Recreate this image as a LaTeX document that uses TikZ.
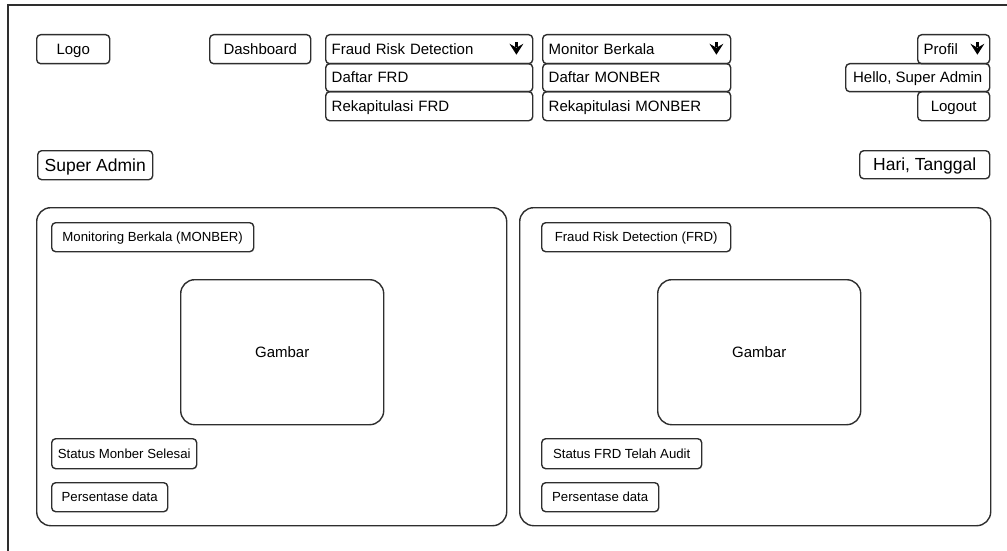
\documentclass[tikz,border=0pt]{standalone}
\usepackage{fontspec}
\setmainfont{Liberation Sans}
\begin{document}
\begin{tikzpicture}[x=1pt, y=-1pt,
  box/.style={draw=black!82, line width=1.4pt, rounded corners=4pt, inner sep=0pt,
              anchor=north west, align=center, text depth=0pt},
  panel/.style={box, rounded corners=14pt},
  menufont/.style={font=\fontsize{15}{18}\selectfont, text height=10.4pt},
  headfont/.style={font=\fontsize{17.5}{20}\selectfont, text height=12.2pt},
  smallfont/.style={font=\fontsize{13.2}{16}\selectfont, text height=9.2pt},
  menuitem/.style={box, menufont, minimum height=#1},
  dropitem/.style={box, menufont, align=left, inner xsep=6pt},
  droparrow/.pic={
    \fill (-1.2,0) rectangle (1.2,5);
    \fill (0,12.5) -- (-7,1.5) -- (0,5.5) -- (7,1.5) -- cycle;
  }
]
\clip (0,0) rectangle (1007,551);
% outer page frame, its right and bottom edges run past the visible area
\draw[draw=black!82, line width=1.5pt] (8,5) rectangle (1040,580);

% top navigation bar
\node[menuitem=29pt, minimum width=73pt] (logo) at (36,34) {Logo};
\node[menuitem=29pt, minimum width=101pt] (dash) at (209,34) {Dashboard};

\node[dropitem, text width=195pt, minimum height=29pt] (frd) at (325,34) {Fraud Risk Detection};
\node[dropitem, text width=195pt, minimum height=28pt] (frdlist) at (325,63) {Daftar FRD};
\node[dropitem, text width=195pt, minimum height=29pt] (frdrekap) at (325,91) {Rekapitulasi FRD};
\pic at ([xshift=-17pt, yshift=7pt]frd.east) {droparrow};

\node[dropitem, text width=176pt, minimum height=29pt] (mon) at (542,34) {Monitor Berkala};
\node[dropitem, text width=176pt, minimum height=28pt] (monlist) at (542,63) {Daftar MONBER};
\node[dropitem, text width=176pt, minimum height=29pt] (monrekap) at (542,91) {Rekapitulasi MONBER};
\pic at ([xshift=-15pt, yshift=7pt]mon.east) {droparrow};

\node[dropitem, text width=60pt, minimum height=29pt] (profil) at (917,34) {Profil};
\pic at ([xshift=-13pt, yshift=7pt]profil.east) {droparrow};
\node[menuitem=28pt, minimum width=144pt] (hello) at (845,63) {Hello, Super Admin};
\node[menuitem=29pt, minimum width=72pt] (logout) at (917,91) {Logout};

% role and date line
\node[box, headfont, minimum width=115pt, minimum height=29pt] (role) at (37,150) {Super Admin};
\node[box, headfont, minimum width=130pt, minimum height=28pt] (date) at (859,150) {Hari, Tanggal};

% left panel: MONBER
\node[panel, minimum width=470pt, minimum height=318pt] (monpanel) at (36,207) {};
\node[box, smallfont, minimum width=202pt, minimum height=29pt] (montitle) at (51,222) {Monitoring Berkala (MONBER)};
\node[panel, menufont, minimum width=203pt, minimum height=145pt] (monimg) at (180,279) {Gambar};
\node[box, smallfont, minimum width=145pt, minimum height=30pt] (monstatus) at (51,438) {Status Monber Selesai};
\node[box, smallfont, minimum width=116pt, minimum height=29pt] (monpct) at (51,482) {Persentase data};

% right panel: FRD
\node[panel, minimum width=471pt, minimum height=318pt] (frdpanel) at (519,207) {};
\node[box, smallfont, minimum width=189pt, minimum height=29pt] (frdtitle) at (541,222) {Fraud Risk Detection (FRD)};
\node[panel, menufont, minimum width=203pt, minimum height=145pt] (frdimg) at (657,279) {Gambar};
\node[box, smallfont, minimum width=160pt, minimum height=30pt] (frdstatus) at (541,438) {Status FRD Telah Audit};
\node[box, smallfont, minimum width=117pt, minimum height=29pt] (frdpct) at (541,482) {Persentase data};
\end{tikzpicture}
\end{document}
